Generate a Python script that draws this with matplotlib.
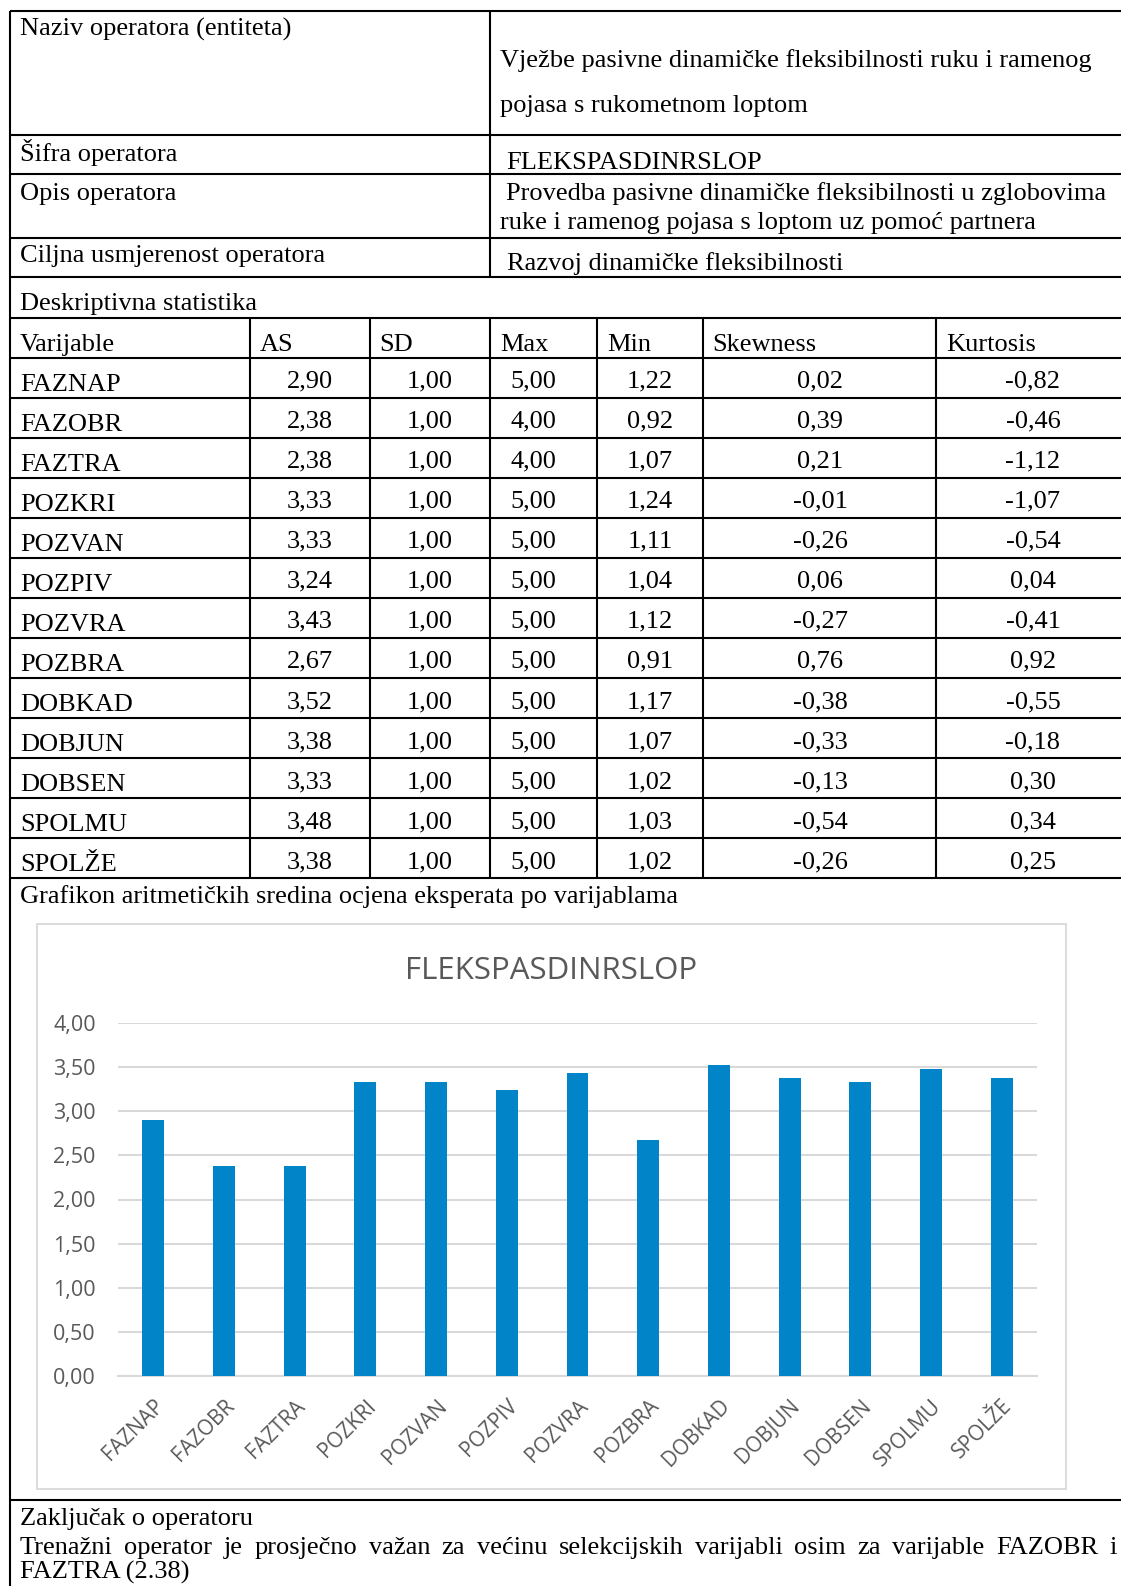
"""
operator sheet: FLEKSPASDINRSLOP
"""
import matplotlib
matplotlib.use('Agg')
import matplotlib.pyplot as plt
from matplotlib.lines import Line2D
from matplotlib.patches import Rectangle

variables = ['FAZNAP', 'FAZOBR', 'FAZTRA', 'POZKRI', 'POZVAN', 'POZPIV', 'POZVRA',
             'POZBRA', 'DOBKAD', 'DOBJUN', 'DOBSEN', 'SPOLMU', 'SPOLŽE']
as_vals = [2.90, 2.38, 2.38, 3.33, 3.33, 3.24, 3.43, 2.67, 3.52, 3.38, 3.33, 3.48, 3.38]
sd_vals = [1.00] * 13
max_vals = [5.00, 4.00, 4.00, 5.00, 5.00, 5.00, 5.00, 5.00, 5.00, 5.00, 5.00, 5.00, 5.00]
min_vals = [1.22, 0.92, 1.07, 1.24, 1.11, 1.04, 1.12, 0.91, 1.17, 1.07, 1.02, 1.03, 1.02]
skew_vals = [0.02, 0.39, 0.21, -0.01, -0.26, 0.06, -0.27, 0.76, -0.38, -0.33, -0.13, -0.54, -0.26]
kurt_vals = [-0.82, -0.46, -1.12, -1.07, -0.54, 0.04, -0.41, 0.92, -0.55, -0.18, 0.30, 0.34, 0.25]
headers = ['Varijable', 'AS', 'SD', 'Max', 'Min', 'Skewness', 'Kurtosis']
y_ticks = [0, 0.5, 1.0, 1.5, 2.0, 2.5, 3.0, 3.5, 4.0]

W, H = 1121, 1586
SERIF = 'Liberation Serif'
SANS = 'Open Sans'
FS = 19
GRAY = '#595959'


def fx(x):
    return x / W


def fy(y):
    return 1 - y / H


fig = plt.figure(figsize=(W / 100, H / 100), dpi=100)
fig.patch.set_facecolor('white')


def line(x0, y0, x1, y1, color='black', lw=1.5):
    fig.add_artist(Line2D([fx(x0), fx(x1)], [fy(y0), fy(y1)], color=color,
                          lw=lw, solid_capstyle='butt'))


def txt(x, y, s, ha='left', **kw):
    kw.setdefault('family', SERIF)
    kw.setdefault('fontsize', FS)
    kw.setdefault('color', 'black')
    return fig.text(fx(x), fy(y), s, ha=ha, va='baseline', **kw)


def justify(x0, x1, y, s):
    words = s.split()
    renderer = fig.canvas.get_renderer()
    items = [txt(x0, y, w) for w in words]
    widths = [t.get_window_extent(renderer).width for t in items]
    gap = (x1 - x0 - sum(widths)) / (len(words) - 1)
    x = x0
    for t, w in zip(items, widths):
        t.set_x(fx(x))
        x += w + gap


# --- table grid
line(10, 11, W, 11)
line(10, 11, 10, H)
for y in (134.6, 174, 237.7, 277.2, 317.7):
    line(10, y, W, y)
line(490, 11, 490, 277.2)

row_top = 317.7
row_h = 40.03
n_rows = len(variables) + 1
for i in range(1, n_rows + 1):
    line(10, row_top + i * row_h, W, row_top + i * row_h)
col_x = [249.9, 370.3, 489.7, 596.9, 703.1, 935.8]
for x in col_x:
    line(x, row_top, x, row_top + n_rows * row_h)
line(10, 1500, W, 1500)

# --- top texts
txt(20, 35.4, 'Naziv operatora (entiteta)')
txt(500, 67, 'Vježbe pasivne dinamičke fleksibilnosti ruku i ramenog')
txt(500, 112, 'pojasa s rukometnom loptom')
txt(20, 161, 'Šifra operatora')
txt(506, 169, 'FLEKSPASDINRSLOP')
txt(20, 200, 'Opis operatora')
txt(506, 200, 'Provedba pasivne dinamičke fleksibilnosti u zglobovima')
txt(500, 229, 'ruke i ramenog pojasa s loptom uz pomoć partnera')
txt(20, 262, 'Ciljna usmjerenost operatora')
txt(507, 270, 'Razvoj dinamičke fleksibilnosti')
txt(20, 310, 'Deskriptivna statistika')

# --- descriptive table
head_x = [20, 260, 379, 500, 607, 712, 946]
for x, h in zip(head_x, headers):
    txt(x, row_top + 33, h)

num_cx = [310, 430, 533, 650, 820, 1033]
columns = [as_vals, sd_vals, max_vals, min_vals, skew_vals, kurt_vals]


def fmt(v):
    return f'{v:.2f}'.replace('.', ',')


for i, name in enumerate(variables):
    top = row_top + (i + 1) * row_h
    txt(20, top + 33, name)
    for cx, col in zip(num_cx, columns):
        txt(cx, top + 30, fmt(col[i]), ha='center')

txt(20, 903, 'Grafikon aritmetičkih sredina ocjena eksperata po varijablama')

# --- chart
fig.add_artist(Rectangle((fx(37), fy(1489)), (1066 - 37) / W, (1489 - 924) / H,
                         fill=False, ec='#d9d9d9', lw=1.3, transform=fig.transFigure))
txt(551, 979, 'FLEKSPASDINRSLOP', ha='center', family=SANS, fontsize=22.5, color=GRAY)

ax = fig.add_axes([fx(118), fy(1376), (1037 - 118) / W, (1376 - 1023) / H])
ax.bar(range(len(variables)), as_vals, width=0.31, color='#0284c9', zorder=3)
ax.set_xlim(-0.5, len(variables) - 0.5)
ax.set_ylim(0, 4)
ax.set_yticks(y_ticks)
ax.set_yticklabels([fmt(v) for v in y_ticks], family=SANS, fontsize=15.5, color=GRAY)
ax.set_xticks(range(len(variables)))
ax.set_xticklabels(variables, rotation=45, ha='right', rotation_mode='anchor',
                   family=SANS, fontsize=15, color=GRAY)
ax.tick_params(axis='both', length=0)
ax.tick_params(axis='y', pad=16)
ax.tick_params(axis='x', pad=14)
ax.grid(axis='y', color='#d9d9d9', lw=1.5, zorder=0)
ax.set_axisbelow(True)
for side in ('top', 'right', 'left'):
    ax.spines[side].set_visible(False)
ax.spines['bottom'].set_color('#d9d9d9')
ax.spines['bottom'].set_linewidth(1.5)
ax.patch.set_alpha(0)

# --- conclusion
txt(20, 1525, 'Zaključak o operatoru')
justify(20, 1117, 1554, 'Trenažni operator je prosječno važan za većinu selekcijskih '
        'varijabli osim za varijable FAZOBR i')
txt(20, 1579, 'FAZTRA (2.38)')

fig.savefig('out.png', dpi=100)
